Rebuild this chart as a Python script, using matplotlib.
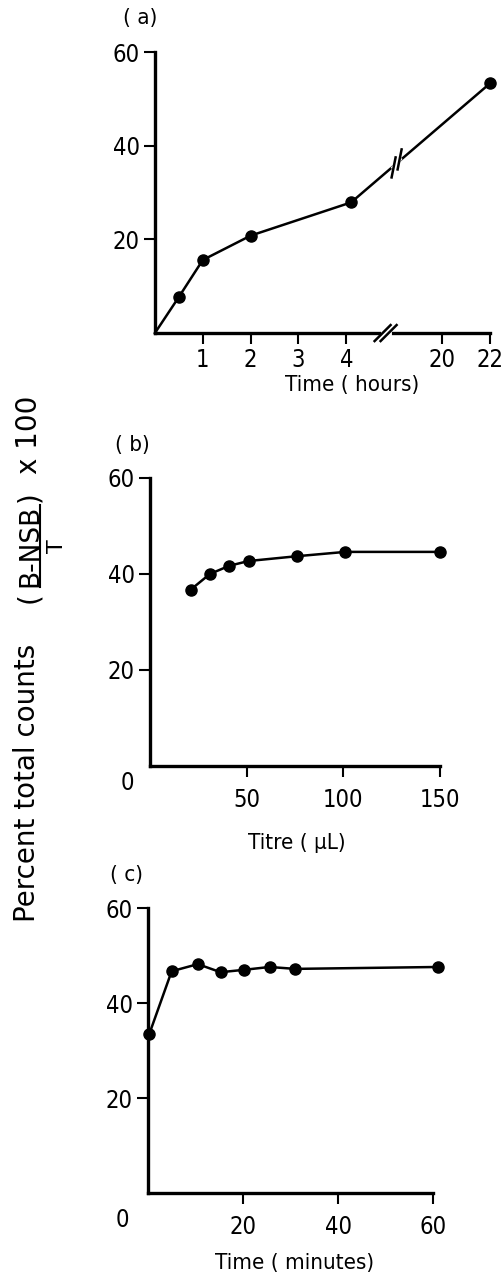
import numpy as np
import matplotlib
matplotlib.use('Agg')
import matplotlib.pyplot as plt
from matplotlib.lines import Line2D
from matplotlib.transforms import IdentityTransform

# (a) binding against incubation time (hours), x axis broken between 4 and 20
hours_a = [0, 0.5, 1, 2, 4.1, 22]
pct_a = [0, 7.7, 15.6, 20.8, 27.9, 53.3]
hour_ticks = [1, 2, 3, 4, 20, 22]

# (b) binding against antiserum titre (uL)
titre_b = [21, 31, 41, 51, 76, 101, 150]
pct_b = [36.7, 40.0, 41.7, 42.7, 43.7, 44.6, 44.6]
titre_ticks = [50, 100, 150]

# (c) binding against time (minutes)
mins_c = [0.3, 5, 10.5, 15.3, 20.2, 25.6, 31, 61]
pct_c = [33.5, 46.7, 48.2, 46.5, 47.0, 47.6, 47.2, 47.6]
min_ticks = [20, 40, 60]

pct_ticks = [20, 40, 60]

plt.rcParams['font.family'] = ['DejaVu Sans']
plt.rcParams['font.stretch'] = 'condensed'


def squeeze(h):
    # after the break 20 h is drawn at 6 and the scale is halved
    h = np.asarray(h, dtype=float)
    return np.where(h > 5, 6 + (h - 20) / 2, h)


def style(ax):
    for s in ['top', 'right']:
        ax.spines[s].set_visible(False)
    for s in ['left', 'bottom']:
        ax.spines[s].set_linewidth(2.4)
    ax.tick_params(direction='out', length=8, width=1.5, labelsize=17, pad=3)
    ax.set_yticks(pct_ticks)
    ax.set_ylim(0, 60)


def slashes(fig, ax, x, y, half, step, gap_lw):
    # two parallel strokes in pixel offsets around a data point, with a white gap
    px, py = ax.transData.transform((x, y))
    fig.add_artist(Line2D([px - step[0], px + step[0]], [py - step[1], py + step[1]],
                          color='white', lw=gap_lw, transform=IdentityTransform(), zorder=5))
    for sgn in (-1, 1):
        cx, cy = px + sgn * step[0], py + sgn * step[1]
        fig.add_artist(Line2D([cx - half[0], cx + half[0]], [cy - half[1], cy + half[1]],
                              color='black', lw=1.8, transform=IdentityTransform(), zorder=6))


fig = plt.figure(figsize=(5.03, 12.79), dpi=100)
line_kw = dict(color='black', lw=1.8, marker='o', ms=8, clip_on=False, zorder=4)

# ---- (a)
ax1 = fig.add_axes([0.308, 0.7396, 0.666, 0.2197])
style(ax1)
ax1.plot(squeeze(hours_a), pct_a, markevery=slice(1, None), **line_kw)
ax1.set_xlim(0, 7)
ax1.set_xticks(squeeze(hour_ticks))
ax1.set_xticklabels([str(t) for t in hour_ticks])
ax1.set_xlabel('Time ( hours)', fontsize=16)
ax1.xaxis.set_label_coords(0.588, -0.148)
ax1.text(-0.045, 1.12, '( a)', transform=ax1.transAxes, fontsize=16, ha='center', va='center')

# ---- (b)
ax2 = fig.add_axes([0.298, 0.4011, 0.577, 0.2252])
style(ax2)
ax2.plot(titre_b, pct_b, **line_kw)
ax2.set_xlim(0, 150)
ax2.set_xticks(titre_ticks)
ax2.tick_params(axis='x', pad=8)
ax2.set_xlabel('Titre ( µL)', fontsize=16)
ax2.xaxis.set_label_coords(0.507, -0.233)
ax2.text(-0.076, -0.059, '0', transform=ax2.transAxes, fontsize=17, ha='center', va='center')
ax2.text(-0.059, 1.115, '( b)', transform=ax2.transAxes, fontsize=16, ha='center', va='center')

# ---- (c)
ax3 = fig.add_axes([0.294, 0.0672, 0.567, 0.2228])
style(ax3)
ax3.plot(mins_c, pct_c, **line_kw)
ax3.set_xlim(0, 60)
ax3.set_xticks(min_ticks)
ax3.tick_params(axis='x', pad=8)
ax3.set_xlabel('Time ( minutes)', fontsize=16)
ax3.xaxis.set_label_coords(0.516, -0.21)
ax3.text(-0.088, -0.095, '0', transform=ax3.transAxes, fontsize=17, ha='center', va='center')
ax3.text(-0.074, 1.116, '( c)', transform=ax3.transAxes, fontsize=16, ha='center', va='center')

# axis breaks in (a): on the x axis and on the data line
xb_axis = 4.82
slashes(fig, ax1, xb_axis, 0, half=(8, 8), step=(3, 0), gap_lw=3.5)
xb_line = 5.05
yb_line = np.interp(xb_line, squeeze(hours_a), pct_a)
slashes(fig, ax1, xb_line, yb_line, half=(2, 10), step=(3, 4), gap_lw=3)

# shared y label, built piece by piece so the T can sit under B-NSB
# (positions in pixels from the bottom-left corner)
lab_kw = dict(rotation=90, rotation_mode='anchor', ha='left', va='baseline',
              fontstretch='normal', transform=IdentityTransform())
fig.text(35, 357, 'Percent total counts', fontsize=20, **lab_kw)
fig.text(37, 676, '(', fontsize=20, **lab_kw)
num = fig.text(37, 692, 'B-NSB', fontsize=19, **lab_kw)
nb = num.get_window_extent(fig.canvas.get_renderer())
fig.add_artist(Line2D([40, 40], [nb.y0, nb.y1], color='black', lw=1.5,
                      transform=IdentityTransform()))
fig.text(63, (nb.y0 + nb.y1) / 2, 'T', fontsize=16, rotation=90, rotation_mode='anchor',
         ha='center', va='baseline', fontstretch='normal', transform=IdentityTransform())
fig.text(37, 777, ')', fontsize=20, **lab_kw)
fig.text(37, 805, 'x 100', fontsize=20, **lab_kw)

fig.savefig('out.png', dpi=100)
